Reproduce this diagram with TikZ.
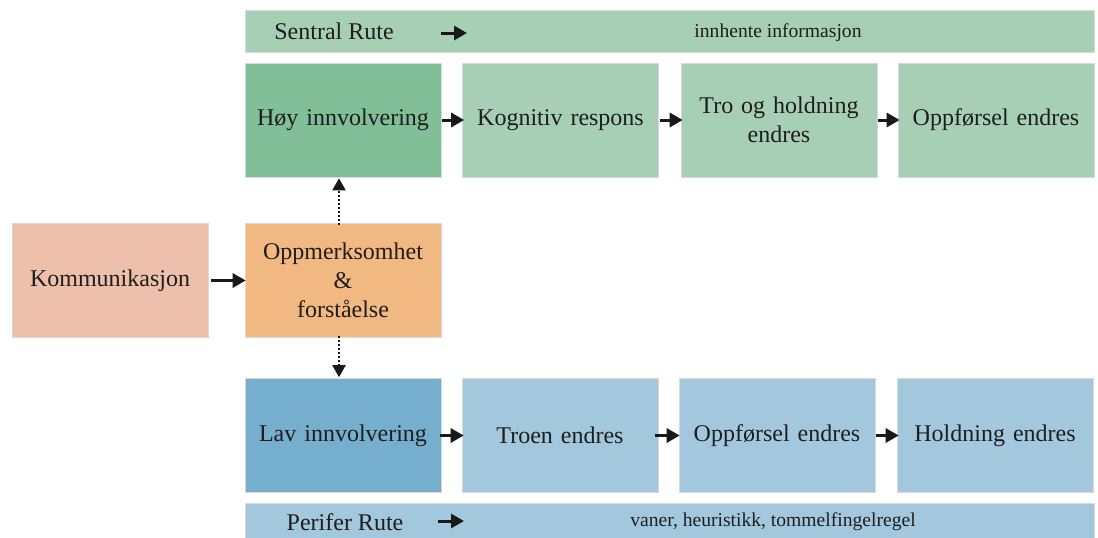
\documentclass[tikz,border=0pt]{standalone}
\usepackage{fontspec}
\setmainfont{Liberation Serif}
\usetikzlibrary{arrows.meta}
\definecolor{glight}{RGB}{167,207,181}
\definecolor{gdark}{RGB}{128,191,152}
\definecolor{blight}{RGB}{163,200,222}
\definecolor{bdark}{RGB}{118,174,206}
\definecolor{orng}{RGB}{242,184,130}
\definecolor{pink}{RGB}{238,192,172}
\definecolor{txt}{RGB}{30,30,30}
\tikzset{
  box/.style={draw=white!85!black, line width=0.6pt, minimum width=196pt, minimum height=114pt, inner sep=2pt,
    align=center, text=txt, font=\fontsize{24}{29}\selectfont, text width=192pt},
  bar/.style={draw=white!85!black, line width=0.6pt, inner sep=0pt, anchor=north west},
  arr/.style={-{Triangle[length=13pt,width=14pt]}, line width=3pt, black!90},
  darr/.style={-{Triangle[length=12pt,width=13pt]}, line width=2pt, dotted, black!90},
  bartxt/.style={text=txt, font=\fontsize{24}{29}\selectfont, inner sep=0pt},
  smalltxt/.style={text=txt, font=\fontsize{19.6}{24}\selectfont, inner sep=0pt}
}
\begin{document}
\begin{tikzpicture}[x=1pt,y=-1pt]
\useasboundingbox (0,0) rectangle (1098,538);
% bars
\path[bar, fill=glight] (245,10) rectangle (1094,52);
\path[bar, fill=blight] (245,503) rectangle (1094,538);
\node[bartxt] (st) at (334,31) {Sentral Rute};
\node[smalltxt] (si) at (778,33) {innhente informasjon};
\node[bartxt] (pt) at (345,522) {Perifer Rute};
\node[smalltxt] (pv) at (773,522) {vaner, heuristikk, tommelfingelregel};
\coordinate (sa1) at (441,33);
\coordinate (sa2) at (467,33);
\coordinate (pa1) at (438,521);
\coordinate (pa2) at (464,521);
\draw[arr] (sa1) -- (sa2);
\draw[arr] (pa1) -- (pa2);
% top row
\node[box, fill=gdark] (hoy) at (343,120) {Høy innvolvering};
\node[box, fill=glight] (kog) at (560.5,120) {Kognitiv respons};
\node[box, fill=glight] (tro) at (779,120) {\fontsize{24}{30}\selectfont Tro og holdning\\endres};
\node[box, fill=glight] (opp1) at (996,120) {Oppførsel endres};
% middle
\node[box, fill=pink] (kom) at (110,280.5) {Kommunikasjon};
\node[box, fill=orng] (oppm) at (343,280.5) {Oppmerksomhet\\\&\\forståelse};
% bottom row
\node[box, fill=bdark] (lav) at (343,435.5) {Lav innvolvering};
\node[box, fill=blight] (troen) at (560,435.5) {Troen endres};
\node[box, fill=blight] (opp2) at (777,435.5) {Oppførsel endres};
\node[box, fill=blight] (hold) at (995,435.5) {Holdning endres};
% arrows
\draw[arr] ([xshift=1pt]hoy.east) -- ([xshift=2pt]kog.west);
\draw[arr] ([xshift=1pt]kog.east) -- ([xshift=2pt]tro.west);
\draw[arr] ([xshift=1pt]tro.east) -- ([xshift=2pt]opp1.west);
\draw[arr] ([xshift=-1pt]lav.east) -- ([xshift=2pt]troen.west);
\draw[arr] ([xshift=-3pt]troen.east) -- ([xshift=1pt]opp2.west);
\draw[arr] ([xshift=1pt]opp2.east) -- ([xshift=2pt]hold.west);
\draw[arr] ([xshift=3pt]kom.east) -- ([xshift=1pt]oppm.west);
\draw[darr] ([xshift=-4pt,yshift=-2pt]oppm.north) -- ([xshift=-4pt,yshift=-1pt]hoy.south);
\draw[darr] ([xshift=-4pt,yshift=2pt]oppm.south) -- ([xshift=-4pt,yshift=1pt]lav.north);
\end{tikzpicture}
\end{document}
